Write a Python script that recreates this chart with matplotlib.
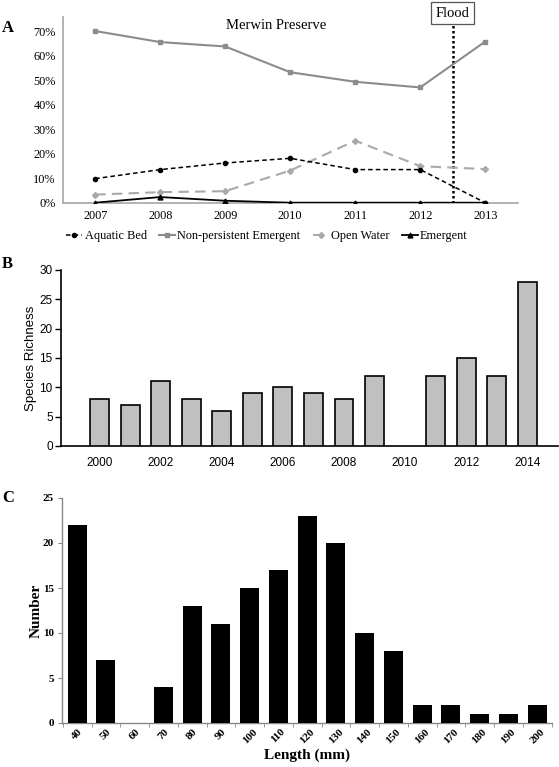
import matplotlib
matplotlib.use("Agg")
import matplotlib.pyplot as plt
import numpy as np

# ---------------- data ----------------
years_a = ["2007", "2008", "2009", "2010", "2011", "2012", "2013"]
aquatic_bed = [0.098, 0.135, 0.162, 0.181, 0.135, 0.135, 0.0]
non_persistent = [0.700, 0.655, 0.637, 0.532, 0.493, 0.470, 0.657]
open_water = [0.033, 0.043, 0.047, 0.131, 0.253, 0.149, 0.137]
emergent = [0.0, 0.023, 0.008, 0.0, 0.0, 0.0, 0.0]
flood_pos = 5.5

years_b = [2000, 2001, 2002, 2003, 2004, 2005, 2006, 2007, 2008, 2009, 2011, 2012, 2013, 2014]
richness = [8, 7, 11, 8, 6, 9, 10, 9, 8, 12, 12, 15, 12, 28]

lengths = ["40", "50", "60", "70", "80", "90", "100", "110", "120", "130",
           "140", "150", "160", "170", "180", "190", "200"]
counts = [22, 7, 0, 4, 13, 11, 15, 17, 23, 20, 10, 8, 2, 2, 1, 1, 2]

SERIF = ["Liberation Serif", "DejaVu Serif"]
SANS = ["Liberation Sans", "DejaVu Sans"]

W, H = 559, 767
fig = plt.figure(figsize=(W / 100, H / 100), dpi=100)

def rect(l, r, t, b):
    return [l / W, 1 - b / H, (r - l) / W, (b - t) / H]

# ---------------- Panel A ----------------
axA = fig.add_axes(rect(62.7, 517.7, 17.3, 202.7))
x = np.arange(len(years_a))
gray_spine = "#a6a6a6"
axA.plot(x, aquatic_bed, color="black", ls=(0, (3, 2)), lw=1.1, marker="o", ms=3,
         label="Aquatic Bed", zorder=4)
axA.plot(x, non_persistent, color="#8c8c8c", ls="-", lw=1.5, marker="s", ms=3.5,
         label="Non-persistent Emergent", zorder=3)
axA.plot(x, open_water, color="#a9a9a9", ls=(0, (5, 3)), lw=1.5, marker="D", ms=3,
         label="Open Water", zorder=3)
axA.plot(x, emergent, color="black", ls="-", lw=1.3, marker="^", ms=3.5,
         label="Emergent", zorder=5)
axA.set_xlim(-0.5, len(years_a) - 0.5)
axA.set_ylim(0, 0.756)
axA.set_xticks(x)
axA.set_xticklabels(years_a, family=SERIF, fontsize=8.8)
yt = np.arange(0, 0.71, 0.1)
axA.set_yticks(yt)
axA.set_yticklabels([f"{int(round(v*100))}%" for v in yt], family=SERIF, fontsize=8.8)
axA.tick_params(length=0, pad=5)
for s in ["top", "right"]:
    axA.spines[s].set_visible(False)
for s in ["left", "bottom"]:
    axA.spines[s].set_color(gray_spine)
    axA.spines[s].set_linewidth(1.2)
axA.axvline(flood_pos, color="black", ls=(0, (1, 1)), lw=1.8, zorder=2)
axA.text(flood_pos, 0.773, "Flood", family=SERIF, fontsize=10.5, ha="center", va="center",
         clip_on=False, zorder=10,
         bbox=dict(boxstyle="square,pad=0.3", fc="white", ec="#555555", lw=0.9))
axA.text(0.47, 0.958, "Merwin Preserve", transform=axA.transAxes, family=SERIF,
         fontsize=10.5, ha="center", va="center")
fig.legend(*axA.get_legend_handles_labels(), loc="center", bbox_to_anchor=(267 / W, 1 - 236 / H),
           ncol=4, frameon=False, prop=dict(family=SERIF, size=8.8), handlelength=1.3,
           handletextpad=0.2, columnspacing=1.0, borderaxespad=0, borderpad=0)
fig.text(2 / W, 1 - 28 / H, "A", family=SERIF, fontsize=12, fontweight="bold",
         ha="left", va="center")

# ---------------- Panel B ----------------
axB = fig.add_axes(rect(61, 557.7, 270, 446))
axB.bar(years_b, richness, width=0.62, color="#c0c0c0", edgecolor="black", lw=1.2, zorder=3)
axB.set_xlim(1998.73, 2015.0)
axB.set_ylim(0, 30)
axB.set_yticks(np.arange(0, 31, 5))
axB.set_xticks(np.arange(2000, 2015, 2))
for lab in axB.get_xticklabels() + axB.get_yticklabels():
    lab.set_family(SANS)
    lab.set_fontsize(8.5)
axB.tick_params(axis="y", length=4, width=1, pad=2)
axB.tick_params(axis="x", length=0, pad=8)
for s in ["top", "right"]:
    axB.spines[s].set_visible(False)
for s in ["left", "bottom"]:
    axB.spines[s].set_linewidth(1.2)
axB.set_ylabel("Species Richness", family=SANS, fontsize=9.5, labelpad=2)
fig.text(2 / W, 1 - 264 / H, "B", family=SERIF, fontsize=12, fontweight="bold",
         ha="left", va="center")

# ---------------- Panel C ----------------
axC = fig.add_axes(rect(62, 551.6, 498, 723))
xc = np.arange(len(lengths))
axC.bar(xc, counts, width=0.66, color="black", edgecolor="none", zorder=3)
axC.set_xlim(-0.53, len(lengths) - 0.5)
axC.set_ylim(0, 25)
axC.set_yticks(np.arange(0, 26, 5))
axC.set_yticklabels([str(v) for v in range(0, 26, 5)], family=SERIF, fontsize=8,
                    fontweight="bold")
axC.set_xticks(xc)
axC.set_xticklabels(lengths, family=SERIF, fontsize=8, fontweight="bold",
                    rotation=45, ha="center", va="top")
axC.tick_params(axis="x", length=0, pad=3)
axC.set_xticks(np.arange(-0.5, len(lengths), 1), minor=True)
axC.tick_params(axis="x", which="minor", length=3, color="#888888")
axC.tick_params(axis="y", length=3, color="#888888", pad=3)
for s in ["top", "right"]:
    axC.spines[s].set_visible(False)
for s in ["left", "bottom"]:
    axC.spines[s].set_color("#888888")
    axC.spines[s].set_linewidth(1.0)
axC.set_ylabel("Number", family=SERIF, fontsize=11, fontweight="bold", labelpad=0)
axC.set_xlabel("Length (mm)", family=SERIF, fontsize=11, fontweight="bold", labelpad=2)
fig.text(2 / W, 1 - 498 / H, "C", family=SERIF, fontsize=12, fontweight="bold",
         ha="left", va="center")

fig.savefig("out.png", dpi=100)
